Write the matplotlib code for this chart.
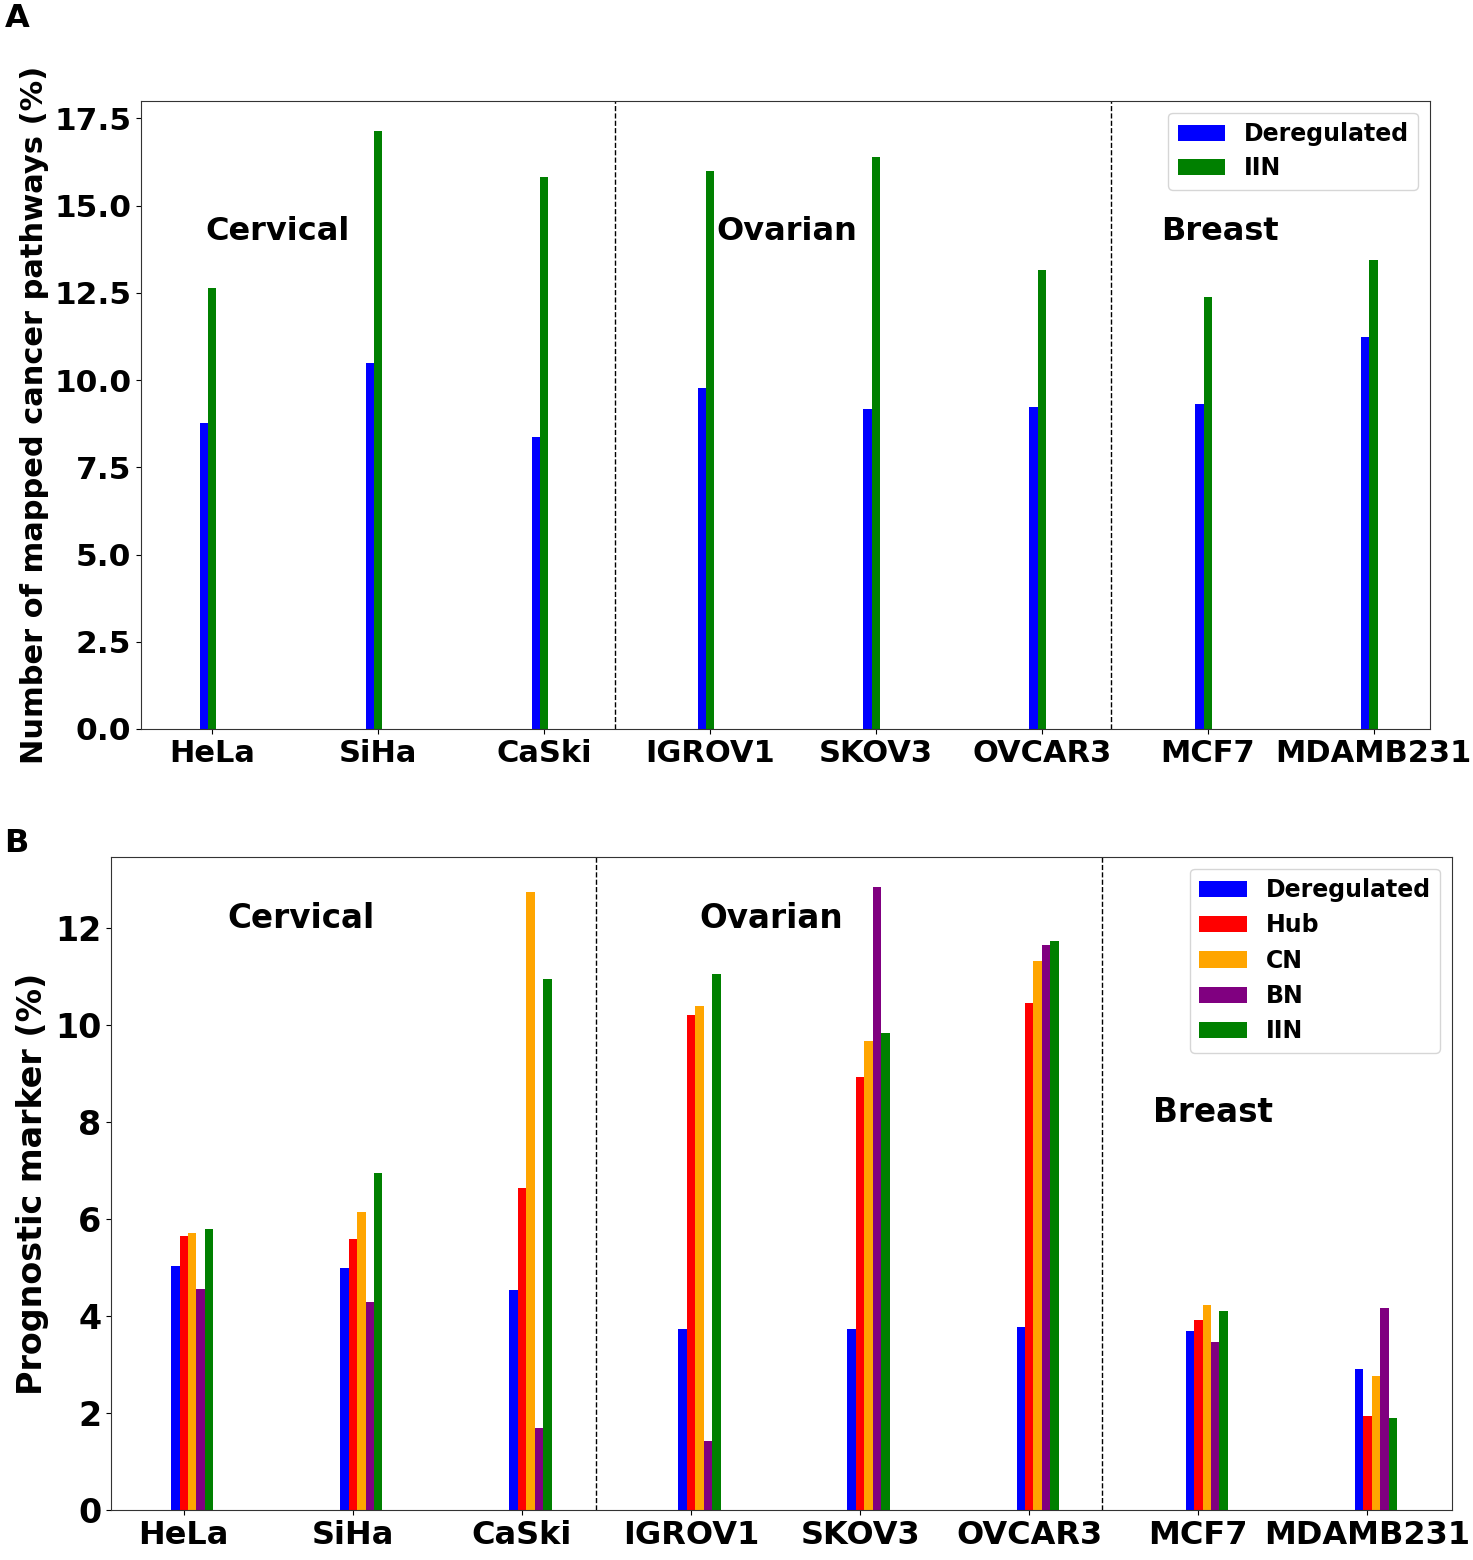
import numpy as np
import matplotlib
matplotlib.use("Agg")
import matplotlib.pyplot as plt

cell_lines = ["HeLa", "SiHa", "CaSki", "IGROV1", "SKOV3", "OVCAR3", "MCF7", "MDAMB231"]

# panel A: mapped cancer pathways (%)
pathway_dereg = [8.76, 10.49, 8.36, 9.78, 9.18, 9.24, 9.32, 11.22]
pathway_iin = [12.63, 17.14, 15.81, 15.99, 16.38, 13.15, 12.37, 13.44]

# panel B: prognostic markers (%)
prog_dereg = [5.03, 4.99, 4.53, 3.73, 3.73, 3.78, 3.68, 2.90]
prog_hub = [5.64, 5.59, 6.63, 10.20, 8.93, 10.45, 3.91, 1.93]
prog_cn = [5.71, 6.14, 12.74, 10.38, 9.66, 11.32, 4.22, 2.76]
prog_bn = [4.55, 4.28, 1.69, 1.42, 12.84, 11.65, 3.46, 4.16]
prog_iin = [5.79, 6.95, 10.95, 11.05, 9.83, 11.73, 4.09, 1.89]

cancer_types = ["Cervical", "Ovarian", "Breast"]

plt.rcParams["font.family"] = "DejaVu Sans"
plt.rcParams["font.weight"] = "bold"
plt.rcParams["axes.labelweight"] = "bold"

fig = plt.figure(figsize=(14.73, 15.6), dpi=100)
x = np.arange(len(cell_lines))
w = 0.05

# ---- A ----
axA = fig.add_axes([0.0957, 0.5327, 0.8751, 0.4026])
axA.bar(x - w, pathway_dereg, w, color="blue", label="Deregulated")
axA.bar(x, pathway_iin, w, color="green", label="IIN")
axA.set_xticks(x)
axA.set_xticklabels(cell_lines, fontsize=22, fontweight="bold")
ytA = np.arange(0, 17.6, 2.5)
axA.set_yticks(ytA)
axA.set_yticklabels([f"{v:.1f}" for v in ytA], fontsize=22.5, fontweight="bold")
axA.set_xlim(-0.43, 7.34)
axA.set_ylim(0, 18.0)
axA.set_ylabel("Number of mapped cancer pathways (%)", fontsize=22, fontweight="bold")
for xv in [2.43, 5.42]:
    axA.axvline(xv, color="black", ls="--", lw=1)
for name, xt, yt in zip(cancer_types, [-0.04, 3.04, 5.72], [14, 14, 14]):
    axA.text(xt, yt, name, fontsize=23, fontweight="bold")
axA.legend(loc="upper right", prop={"size": 17, "weight": "bold"}, handlelength=2.0,
           borderpad=0.4, labelspacing=0.42)
fig.text(0.003, 0.983, "A", fontsize=23, fontweight="bold")

# ---- B ----
axB = fig.add_axes([0.0754, 0.0321, 0.9103, 0.4186])
axB.bar(x - w, prog_dereg, w, color="blue", label="Deregulated")
axB.bar(x, prog_hub, w, color="red", label="Hub")
axB.bar(x + w, prog_cn, w, color="orange", label="CN")
axB.bar(x + 2 * w, prog_bn, w, color="purple", label="BN")
axB.bar(x + 3 * w, prog_iin, w, color="green", label="IIN")
axB.set_xticks(x)
axB.set_xticklabels(cell_lines, fontsize=23, fontweight="bold")
axB.set_yticks(np.arange(0, 13, 2))
axB.set_yticklabels([str(v) for v in range(0, 13, 2)], fontsize=24, fontweight="bold")
axB.set_xlim(-0.43, 7.50)
axB.set_ylim(0, 13.46)
axB.set_ylabel("Prognostic marker (%)", fontsize=24, fontweight="bold")
for xv in [2.44, 5.43]:
    axB.axvline(xv, color="black", ls="--", lw=1)
for name, xt, yt in zip(cancer_types, [0.26, 3.05, 5.73], [12, 12, 8]):
    axB.text(xt, yt, name, fontsize=23.5, fontweight="bold")
axB.legend(loc="upper right", prop={"size": 17, "weight": "bold"}, handlelength=2.0,
           borderpad=0.4, labelspacing=0.48)
fig.text(0.003, 0.454, "B", fontsize=23, fontweight="bold")

for ax in (axA, axB):
    for s in ax.spines.values():
        s.set_color("#333333")

fig.savefig("out.png", dpi=100)
